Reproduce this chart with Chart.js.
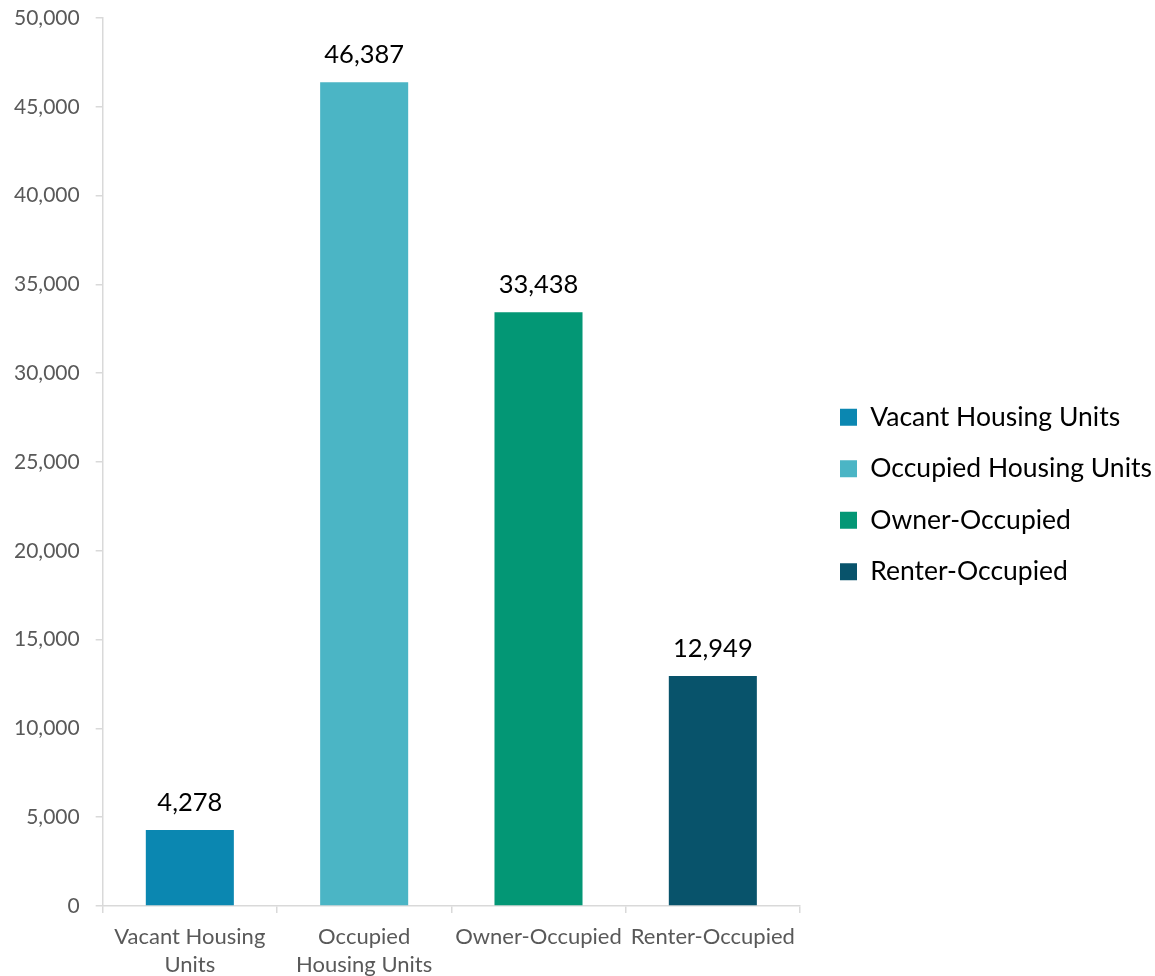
<!DOCTYPE html>
<html>
<head>
<meta charset="utf-8">
<script src="https://cdn.jsdelivr.net/npm/chart.js@4"></script>
<style>
  html, body { margin: 0; padding: 0; background: #fff; }
  #wrap { width: 1155px; height: 976px; }
</style>
</head>
<body>
<div id="wrap"><canvas id="housingChart" width="1155" height="976"></canvas></div>
<script>
const categories = ['Vacant Housing Units', 'Occupied Housing Units', 'Owner-Occupied', 'Renter-Occupied'];
const axisLabels = [['Vacant Housing', 'Units'], ['Occupied', 'Housing Units'], 'Owner-Occupied', 'Renter-Occupied'];
const unitCounts = [4278, 46387, 33438, 12949];
const barColors = ['#0B87B1', '#4BB5C5', '#039775', '#08536B'];
const yTicks = [0, 5000, 10000, 15000, 20000, 25000, 30000, 35000, 40000, 45000, 50000];

const fmt = v => v.toLocaleString('en-US');
const FONT = 'Lato';

// numbers above each bar
const valueLabels = {
    id: 'valueLabels',
    afterDatasetsDraw(chart) {
        const ctx = chart.ctx;
        const meta = chart.getDatasetMeta(0);
        ctx.save();
        ctx.font = '25.5px ' + FONT;
        ctx.fillStyle = '#000';
        ctx.textAlign = 'center';
        ctx.textBaseline = 'alphabetic';
        meta.data.forEach((bar, i) => {
            ctx.fillText(fmt(unitCounts[i]), bar.x, bar.y - 19);
        });
        ctx.restore();
    }
};

// fixed-width legend column on the right, nudged away from the plot
const legendPlacement = {
    id: 'legendPlacement',
    beforeLayout(chart) {
        const lg = chart.legend;
        if (lg && !lg._fixedFit) {
            const fit = lg.fit;
            lg.fit = function () { fit.call(this); this.width = 355; };
            lg._fixedFit = true;
        }
    },
    afterLayout(chart) {
        const lg = chart.legend;
        lg.left += 15;
        lg.right += 15;
        lg.top -= 9;
        lg.bottom -= 9;
    }
};

new Chart(document.getElementById('housingChart'), {
    type: 'bar',
    data: {
        labels: axisLabels,
        datasets: [{
            data: unitCounts,
            backgroundColor: barColors,
            barPercentage: 0.505,
            categoryPercentage: 1
        }]
    },
    options: {
        responsive: false,
        animation: false,
        layout: { padding: { top: 18, left: -2, right: 0, bottom: -13 } },
        plugins: {
            tooltip: { enabled: false },
            legend: {
                position: 'right',
                labels: {
                    boxWidth: 17,
                    boxHeight: 17,
                    padding: 25,
                    color: '#000',
                    font: { family: FONT, size: 26.5 },
                    generateLabels: () => categories.map((c, i) => ({
                        text: c,
                        fillStyle: barColors[i],
                        strokeStyle: barColors[i],
                        lineWidth: 0,
                        hidden: false,
                        index: i
                    }))
                }
            }
        },
        scales: {
            y: {
                min: 0,
                max: 50000,
                afterBuildTicks: axis => { axis.ticks = yTicks.map(v => ({ value: v })); },
                // keep the top tick label from pushing the plot down
                afterFit: axis => { axis.paddingTop = 12; axis.paddingBottom = 12; },
                border: { color: '#D9D9D9', width: 1.5 },
                grid: { drawOnChartArea: false, drawTicks: true, tickLength: 7, color: '#D9D9D9', lineWidth: 1.5 },
                ticks: {
                    padding: 16,
                    color: '#595959',
                    font: { family: FONT, size: 21 },
                    callback: v => fmt(v)
                }
            },
            x: {
                border: { color: '#D9D9D9', width: 1.5 },
                grid: { drawOnChartArea: false, drawTicks: true, tickLength: 7, color: '#D9D9D9', lineWidth: 1.5, offset: true },
                ticks: {
                    padding: 10,
                    color: '#595959',
                    maxRotation: 0,
                    autoSkip: false,
                    font: { family: FONT, size: 22, lineHeight: '28px' }
                }
            }
        }
    },
    plugins: [valueLabels, legendPlacement]
});
</script>
</body>
</html>
